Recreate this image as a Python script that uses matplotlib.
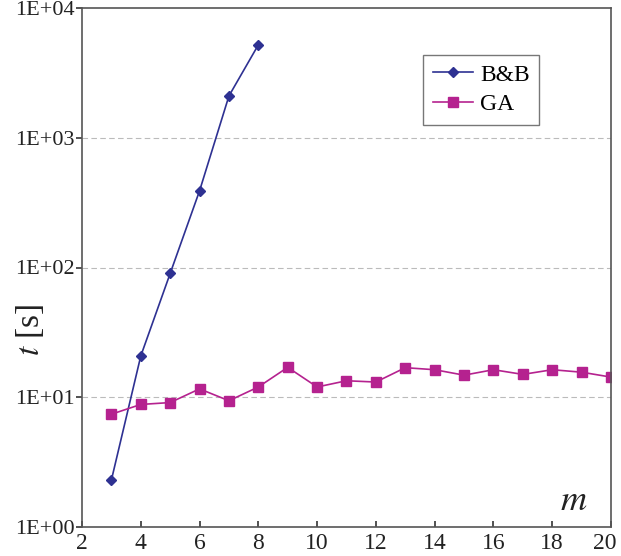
import matplotlib
matplotlib.use("Agg")
import matplotlib.pyplot as plt
import matplotlib.transforms as mtransforms
from matplotlib.ticker import FixedLocator, NullLocator

# data
m_bb = [3, 4, 5, 6, 7, 8]
t_bb = [2.3, 20.8, 90, 390, 2100, 5200]

m_ga = list(range(3, 21))
t_ga = [7.4, 8.8, 9.1, 11.6, 9.4, 12.0, 17.0, 12.0, 13.4, 13.1,
        16.9, 16.3, 14.8, 16.3, 15.0, 16.3, 15.6, 14.3]

y_ticks = [1, 10, 100, 1000, 10000]
y_labels = ["1E+00", "1E+01", "1E+02", "1E+03", "1E+04"]

plt.rcParams["font.family"] = ["Liberation Serif", "DejaVu Serif"]
plt.rcParams["mathtext.fontset"] = "stix"

fig = plt.figure(figsize=(6.21, 5.56), dpi=100)
ax = fig.add_axes([82 / 621, 29 / 556, 529 / 621, 519 / 556])

ax.plot(m_bb, t_bb, color="#2E3192", marker="D", markersize=5.5,
        linewidth=1.2, label="B&B")
ax.plot(m_ga, t_ga, color="#B5228F", marker="s", markersize=7,
        linewidth=1.2, label="GA")

ax.set_yscale("log")
ax.set_ylim(1, 10000)
ax.set_xlim(2, 20)
ax.yaxis.set_major_locator(FixedLocator(y_ticks))
ax.yaxis.set_minor_locator(NullLocator())
ax.set_yticklabels(y_labels)
ax.set_xticks(range(2, 21, 2))
ax.tick_params(axis="both", width=1.2, colors="#333333")
ax.tick_params(axis="x", labelsize=17, direction="in", length=4, pad=4)
ax.tick_params(axis="y", labelsize=16, direction="out", length=4, pad=1)
for lbl in ax.get_xticklabels() + ax.get_yticklabels():
    lbl.set_color("#222222")

# last x label sits a bit inside the figure edge, as in the original
last = ax.get_xticklabels()[-1]
last.set_transform(last.get_transform() +
                   mtransforms.ScaledTranslation(-6 / 100, 0, fig.dpi_scale_trans))

for v in y_ticks[1:-1]:
    ax.axhline(v, color="#bbbbbb", linestyle=(0, (5, 3)), linewidth=0.8, zorder=0)

for s in ax.spines.values():
    s.set_color("#555555")
    s.set_linewidth(1.2)

fig.text(30 / 621, 1 - 330 / 556, r"$t$ [s]", fontsize=24, rotation=90,
         ha="center", va="center", color="#222222")
ax.text(0.93, 0.05, r"$m$", transform=ax.transAxes, fontsize=26,
        ha="center", va="center", color="#222222")

leg = ax.legend(loc="upper left", bbox_to_anchor=(0.645, 0.91), fontsize=17,
                frameon=True, fancybox=False, edgecolor="#555555",
                handlelength=1.7, borderpad=0.4, labelspacing=0.35,
                handletextpad=0.3, borderaxespad=0)
leg.get_frame().set_linewidth(1.0)

fig.savefig("out.png", dpi=100)
